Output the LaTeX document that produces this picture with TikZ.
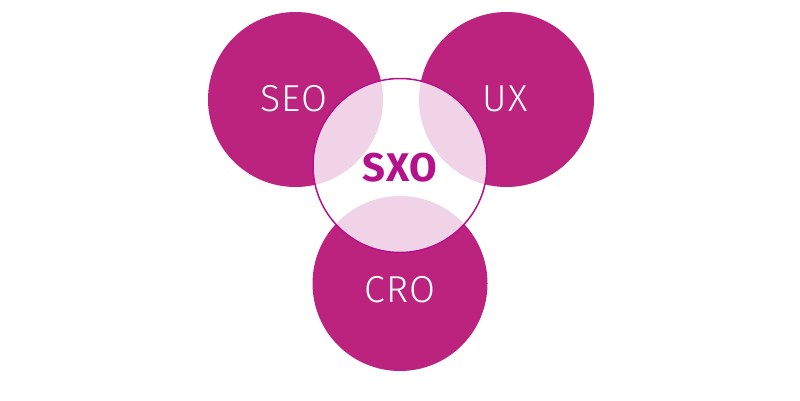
\documentclass[tikz,border=0pt]{standalone}
\usepackage{fontspec}
\setmainfont{Fira Sans}
\newfontfamily\lightfont[LetterSpace=3]{Fira Sans Light}
\newfontfamily\boldfont[LetterSpace=2]{Fira Sans Bold}
\definecolor{mag}{HTML}{BB237F}
\definecolor{lpink}{HTML}{F0D3E6}
\definecolor{sxo}{HTML}{B5118A}
\begin{document}
\begin{tikzpicture}[x=1pt,y=-1pt,
  lbl/.style={text=white,font=\lightfont\fontsize{37.5}{40}\selectfont},
  sxolbl/.style={text=sxo,font=\boldfont\fontsize{40}{44}\selectfont}]
\useasboundingbox (0,0) rectangle (800,400);
\fill[white] (0,0) rectangle (800,400);
\coordinate (seo) at (295.5,99.5);
\coordinate (ux) at (506.5,99.5);
\coordinate (cro) at (400,283.5);
\coordinate (sx) at (400,165.5);
\fill[mag] (seo) circle (87.5);
\fill[mag] (ux) circle (87.5);
\fill[mag] (cro) circle (87.5);
\fill[white] (sx) circle (87);
\begin{scope}
\clip (sx) circle (87);
\fill[lpink] (seo) circle (87.5);
\fill[lpink] (ux) circle (87.5);
\fill[lpink] (cro) circle (87.5);
\end{scope}
\draw[sxo,line width=1.5pt] (sx) circle (87);
\node[lbl] (tseo) at (294,99) {SEO};
\node[lbl] (tux) at (505,99) {UX};
\node[lbl] (tcro) at (400,290) {CRO};
\node[sxolbl] (tsxo) at (400,168) {SXO};
\end{tikzpicture}
\end{document}
